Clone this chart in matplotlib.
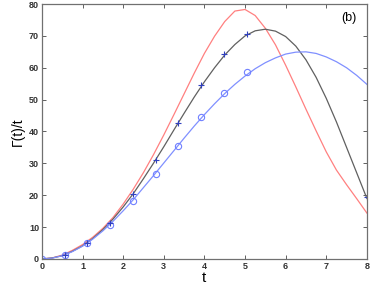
import matplotlib
matplotlib.use('Agg')
import matplotlib.pyplot as plt
import numpy as np

# theory curves, sampled every 0.25 in t
t = np.arange(0, 8.01, 0.25)
red = [0, 0.3, 1.2, 2.7, 4.5, 6.8, 9.6, 13.0, 17.2, 21.9, 27.1, 32.8, 38.9,
       45.3, 51.8, 58.3, 64.5, 69.9, 74.5, 77.8, 78.3, 76.4, 72.4, 67.2, 60.8,
       54.0, 47.0, 40.2, 33.6, 27.9, 23.3, 18.9, 14.4]
black = [0, 0.3, 1.0, 2.4, 4.1, 6.4, 9.2, 12.5, 16.3, 20.5, 25.2, 30.1, 35.2,
         40.5, 45.7, 50.8, 55.6, 60.0, 64.0, 67.3, 70.0, 71.6, 72.1, 71.5, 69.8,
         66.8, 62.5, 57.0, 50.4, 43.0, 35.0, 27.0, 19.0]
blue = [0, 0.25, 1.0, 2.3, 4.0, 6.2, 8.8, 11.8, 15.1, 18.6, 22.4, 26.2, 30.1,
        34.0, 37.9, 41.7, 45.3, 48.7, 51.9, 54.8, 57.4, 59.7, 61.6, 63.1, 64.3,
        64.9, 65.0, 64.5, 63.4, 61.9, 60.0, 57.6, 54.8]

# simulation points
t_sim = [0, 0.56, 1.12, 1.68, 2.24, 2.80, 3.36, 3.92, 4.48, 5.04]
plus_sim = [0, 1.2, 5.1, 11.2, 20.3, 31.0, 42.8, 54.5, 64.2, 70.6]
circ_sim = [0, 1.2, 5.0, 10.6, 18.3, 26.7, 35.4, 44.5, 52.0, 58.7]
t_end = [8.0]
plus_end = [19.5]

plt.rcParams['font.family'] = ['Liberation Sans', 'DejaVu Sans']

fig = plt.figure(figsize=(3.74, 2.89), dpi=100)
ax = fig.add_axes([0.112, 0.104, 0.869, 0.882])

ax.plot(t, red, color='#ff8080', lw=0.9)
ax.plot(t, black, color='#606060', lw=0.9)
ax.plot(t, blue, color='#8090ff', lw=0.9)
ax.plot(t_sim, circ_sim, 'o', mfc='none', mec='#7080ff', ms=4.5, mew=0.8)
ax.plot(t_sim, plus_sim, '+', color='#3040c0', ms=4, mew=0.8)
ax.plot(t_end, plus_end, '+', color='#3040c0', ms=4, mew=0.8)

ax.set_xlim(0, 8)
ax.set_ylim(0, 80)
ax.set_xticks(range(0, 9))
ax.set_yticks(range(0, 81, 10))
ax.tick_params(direction='in', top=True, right=True, labelsize=6.5,
               length=3, width=0.7, color='#606060', pad=2)
for lab in ax.get_xticklabels() + ax.get_yticklabels():
    lab.set_fontweight('bold')
    lab.set_color('#333333')
for s in ax.spines.values():
    s.set_color('#707070')
    s.set_linewidth(0.9)

ax.set_xlabel('t', fontsize=11, labelpad=0)
ax.set_ylabel('Γ(t)/t', fontsize=10, labelpad=3)
ax.text(7.55, 75.5, '(b)', fontsize=9, ha='center', va='center')

fig.savefig('out.png', dpi=100)
